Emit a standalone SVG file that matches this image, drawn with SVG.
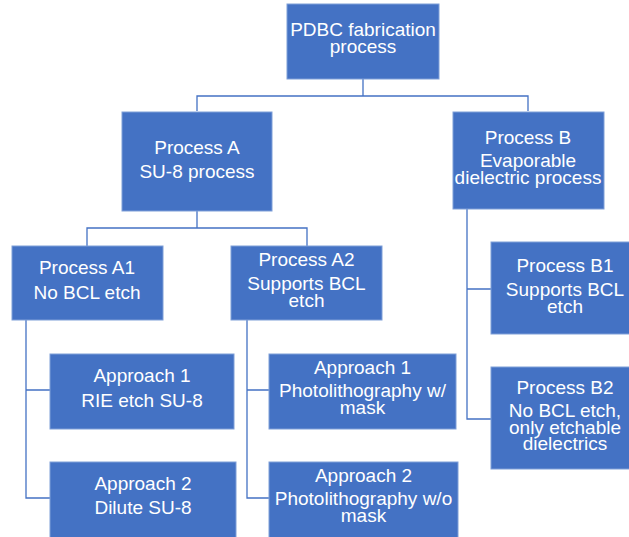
<svg xmlns="http://www.w3.org/2000/svg" width="629" height="537" viewBox="0 0 629 537">
<style>
.box{fill:#4472C4;stroke:#7F9FD8;stroke-width:1}
.t{font-family:"Liberation Sans",Arial,Helvetica,sans-serif;font-size:19px;fill:#FFFFFF;text-anchor:middle}
.c{fill:none;stroke:#4472C4;stroke-width:1.3}
</style>
<rect width="629" height="537" fill="#FFFFFF"/>
<g id="connectors">
<path class="c" d="M363,79 V96 M197,111 V96 H528 V111"/>
<path class="c" d="M197,211 V228 M87,246 V228 H307 V246"/>
<path class="c" d="M26,320 V498 H50 M26,390 H50"/>
<path class="c" d="M247,320 V498 H269 M247,390 H269"/>
<path class="c" d="M467,209 V419 H491 M467,289 H491"/>
</g>
<g id="root">
<rect class="box" x="287" y="4" width="152" height="75"/>
<text class="t" x="363" y="36">PDBC fabrication</text>
<text class="t" x="363" y="53">process</text>
</g>
<g id="processA">
<rect class="box" x="122" y="112" width="150" height="99"/>
<text class="t" x="197" y="154">Process A</text>
<text class="t" x="197" y="178">SU-8 process</text>
</g>
<g id="processB">
<rect class="box" x="453" y="112" width="151" height="97"/>
<text class="t" x="528" y="144">Process B</text>
<text class="t" x="528" y="167">Evaporable</text>
<text class="t" x="528" y="184">dielectric process</text>
</g>
<g id="processA1">
<rect class="box" x="12" y="246" width="151" height="74"/>
<text class="t" x="87" y="274">Process A1</text>
<text class="t" x="87" y="298.5">No BCL etch</text>
</g>
<g id="processA2">
<rect class="box" x="231" y="246" width="151" height="74"/>
<text class="t" x="306.5" y="266">Process A2</text>
<text class="t" x="306.5" y="290">Supports BCL</text>
<text class="t" x="306.5" y="306.5">etch</text>
</g>
<g id="a1-approach1">
<rect class="box" x="50" y="354" width="184" height="75"/>
<text class="t" x="142" y="382">Approach 1</text>
<text class="t" x="142" y="406.5">RIE etch SU-8</text>
</g>
<g id="a1-approach2">
<rect class="box" x="50" y="462" width="186" height="76"/>
<text class="t" x="143" y="490">Approach 2</text>
<text class="t" x="143" y="514">Dilute SU-8</text>
</g>
<g id="a2-approach1">
<rect class="box" x="269" y="354" width="187" height="75"/>
<text class="t" x="362.5" y="374">Approach 1</text>
<text class="t" x="362.5" y="397">Photolithography w/</text>
<text class="t" x="362.5" y="413.5">mask</text>
</g>
<g id="a2-approach2">
<rect class="box" x="269" y="462" width="189" height="76"/>
<text class="t" x="363.5" y="482">Approach 2</text>
<text class="t" x="363.5" y="505">Photolithography w/o</text>
<text class="t" x="363.5" y="521.5">mask</text>
</g>
<g id="processB1">
<rect class="box" x="491" y="242" width="139" height="92"/>
<text class="t" x="565" y="272">Process B1</text>
<text class="t" x="565" y="296">Supports BCL</text>
<text class="t" x="565" y="312.5">etch</text>
</g>
<g id="processB2">
<rect class="box" x="491" y="367" width="139" height="102"/>
<text class="t" x="565" y="394">Process B2</text>
<text class="t" x="565" y="417">No BCL etch,</text>
<text class="t" x="565" y="433.5">only etchable</text>
<text class="t" x="565" y="450">dielectrics</text>
</g>
</svg>
